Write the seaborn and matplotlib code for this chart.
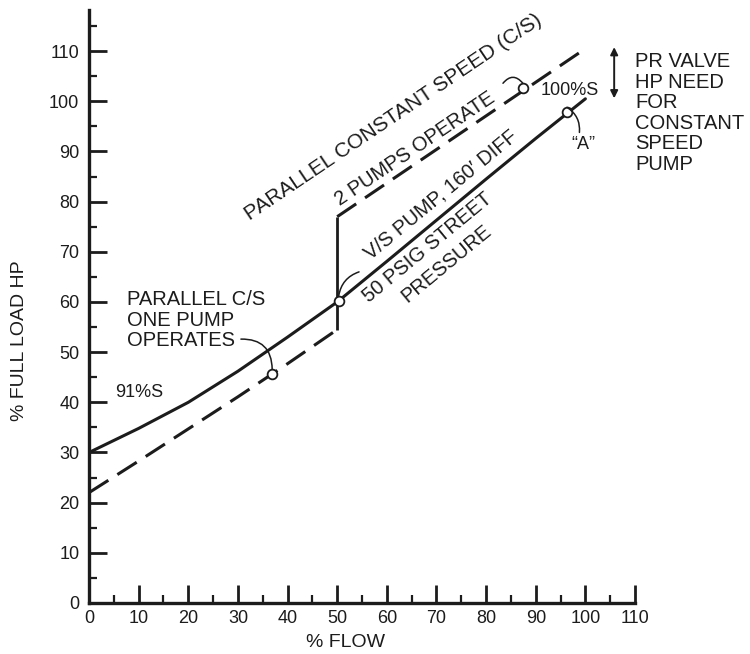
import matplotlib
matplotlib.use("Agg")
import matplotlib.pyplot as plt
import seaborn as sns
import pandas as pd
from matplotlib.ticker import MultipleLocator

# ---- data ----
flow_vs = [0, 10, 20, 30, 40, 50, 60, 70, 80, 90, 100]
hp_vs = [30, 34.8, 40, 46.2, 53, 60, 68.1, 76.3, 84.5, 92.6, 100.5]

flow_cs_one = [0, 10, 20, 30, 40, 50]
hp_cs_one = [22, 28.3, 34.7, 41.1, 47.7, 54.5]

flow_cs_two = [50, 60, 70, 80, 90, 100]
hp_cs_two = [77, 83.7, 90.4, 97.1, 103.8, 110.5]

x_ticks = [0, 10, 20, 30, 40, 50, 60, 70, 80, 90, 100, 110]
y_ticks = [0, 10, 20, 30, 40, 50, 60, 70, 80, 90, 100, 110]

INK = "#1c1c1c"

sns.set_style("ticks")
plt.rcParams["font.family"] = ["Liberation Sans", "DejaVu Sans"]

fig = plt.figure(figsize=(7.5, 6.54), dpi=100)
ax = fig.add_axes([0.1187, 0.078, 0.728, 0.9067])

df_vs = pd.DataFrame({"flow": flow_vs, "hp": hp_vs})
df_one = pd.DataFrame({"flow": flow_cs_one, "hp": hp_cs_one})
df_two = pd.DataFrame({"flow": flow_cs_two, "hp": hp_cs_two})

sns.lineplot(data=df_vs, x="flow", y="hp", ax=ax, color=INK, lw=2.2)
for d in (df_one, df_two):
    sns.lineplot(data=d, x="flow", y="hp", ax=ax, color=INK, lw=2.2,
                 dashes=False, linestyle=(0, (7.5, 3.5)))
# vertical step when second pump starts
ax.plot([flow_cs_one[-1], flow_cs_two[0]], [hp_cs_one[-1], hp_cs_two[0]],
        color=INK, lw=2.0, solid_capstyle="butt")

ax.set_xlim(0, 110)
ax.set_ylim(0, 118.2)
ax.set_xticks(x_ticks)
ax.set_yticks(y_ticks)
ax.set_xticklabels([str(v) for v in x_ticks])
ax.set_yticklabels([str(v) for v in y_ticks])
ax.xaxis.set_minor_locator(MultipleLocator(5))
ax.yaxis.set_minor_locator(MultipleLocator(5))
ax.tick_params(which="major", direction="in", length=13, width=2.0,
               colors=INK, labelsize=13)
ax.tick_params(axis="x", which="major", pad=5)
ax.tick_params(axis="y", which="major", pad=7)
ax.tick_params(which="minor", direction="in", length=6, width=1.6, colors=INK)

sns.despine(ax=ax)
for s in ("left", "bottom"):
    ax.spines[s].set_linewidth(2.4)
    ax.spines[s].set_color(INK)

ax.set_xlabel("% FLOW", fontsize=14, color=INK)
ax.set_ylabel("% FULL LOAD HP", fontsize=14, color=INK)
ax.xaxis.set_label_coords(0.469, -0.052)
ax.yaxis.set_label_coords(-0.112, 0.442)

fs = 14.5
# rotated labels
ax.text(61.3, 96.8, "PARALLEL CONSTANT SPEED (C/S)", rotation=34,
        rotation_mode="anchor", ha="center", va="center", fontsize=15, color=INK)
ax.text(65.7, 90.5, "2 PUMPS OPERATE", rotation=34,
        rotation_mode="anchor", ha="center", va="center", fontsize=fs, color=INK)
ax.text(70.8, 81.4, "V/S PUMP, 160\u2032 DIFF", rotation=39.5,
        rotation_mode="anchor", ha="center", va="center", fontsize=fs, color=INK)
ax.text(68.3, 70.9, "50 PSIG STREET", rotation=39.5,
        rotation_mode="anchor", ha="center", va="center", fontsize=fs, color=INK)
ax.text(72.1, 67.6, "PRESSURE", rotation=39.5,
        rotation_mode="anchor", ha="center", va="center", fontsize=fs, color=INK)

ax.text(7.65, 56.4, "PARALLEL C/S\nONE PUMP\nOPERATES", ha="left", va="center",
        fontsize=fs, color=INK, linespacing=1.08)
ax.text(5.2, 42.0, "91%S", ha="left", va="center", fontsize=13, color=INK)
ax.text(90.9, 102.2, "100%S", ha="left", va="center", fontsize=13, color=INK)
ax.text(99.5, 91.3, "\u201cA\u201d", ha="center", va="center", fontsize=13, color=INK)
ax.text(110.0, 97.7, "PR VALVE\nHP NEED\nFOR\nCONSTANT\nSPEED\nPUMP",
        ha="left", va="center", fontsize=fs, color=INK, linespacing=1.1)

# small circles with leaders
circles = [(36.9, 45.6), (87.4, 102.6), (96.3, 97.8), (50.3, 60.2)]
starts = [(30.6, 52.6), (83.4, 103.6), (98.8, 93.8), (54.4, 66.0)]
rads = [-0.5, -0.6, 0.3, 0.3]
for (cx, cy), (sx, sy), r in zip(circles, starts, rads):
    ax.annotate("", xy=(cx, cy + 1.0), xytext=(sx, sy),
                arrowprops=dict(arrowstyle="-", color=INK, lw=1.1,
                                connectionstyle=f"arc3,rad={r}",
                                shrinkA=0, shrinkB=0))
    ax.plot([cx], [cy], marker="o", ms=7, mfc="white", mec=INK, mew=1.3)

# double arrow: PR valve HP
ax.annotate("", xy=(105.8, 110.8), xytext=(105.8, 100.6),
            arrowprops=dict(arrowstyle="<|-|>", color=INK, lw=1.4,
                            mutation_scale=11, shrinkA=0, shrinkB=0),
            annotation_clip=False)

fig.savefig("out.png", dpi=100)
